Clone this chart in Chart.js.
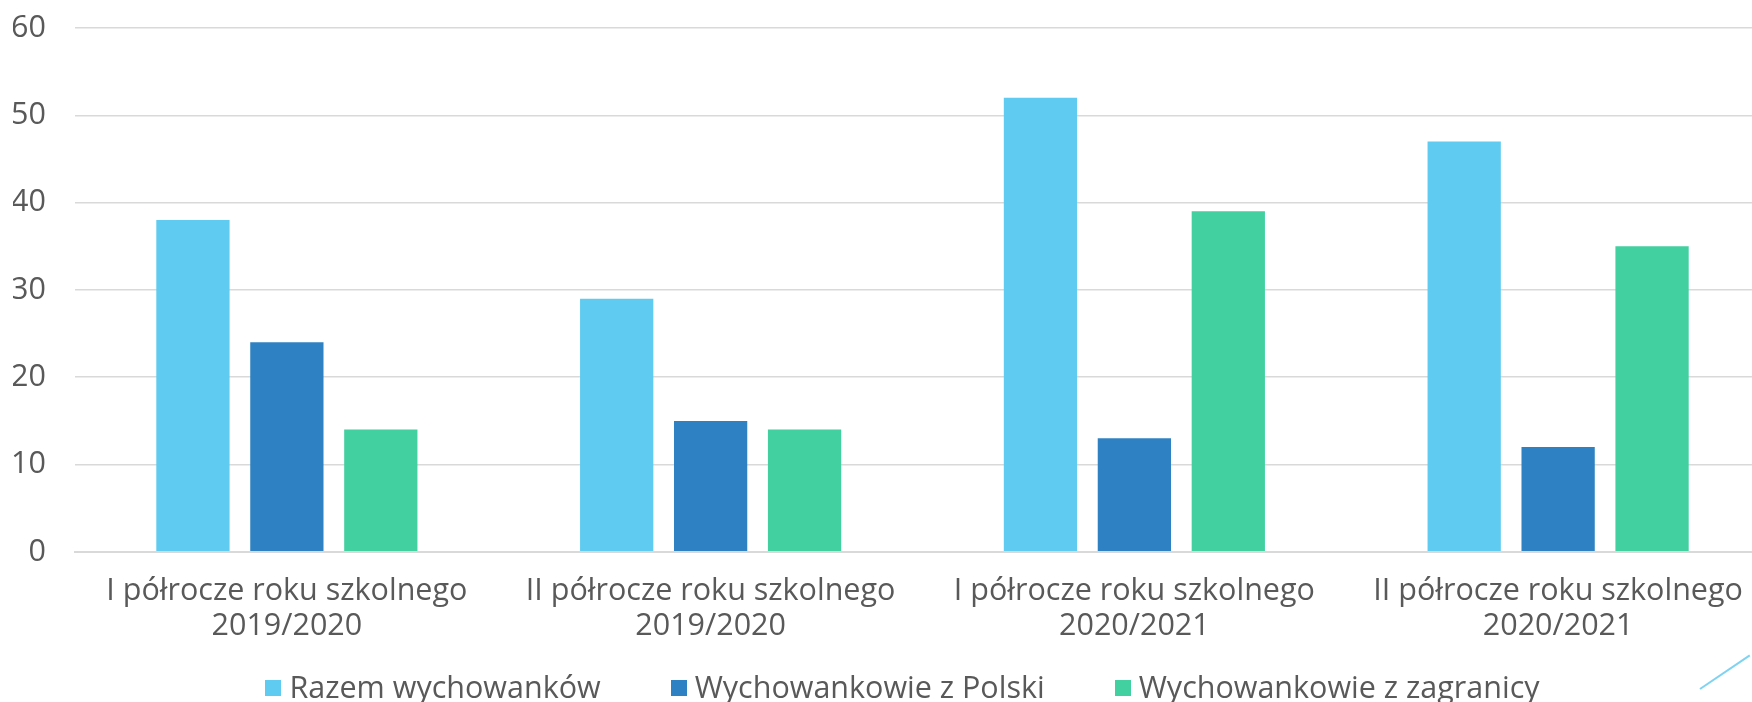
<!DOCTYPE html>
<html lang="pl">
<head>
<meta charset="utf-8">
<script src="https://cdn.jsdelivr.net/npm/chart.js@4/dist/chart.umd.min.js"></script>
<style>
    html, body { margin: 0; padding: 0; background: #fff; }
    .page { position: relative; width: 1752px; height: 702px; overflow: hidden; }
    .chart-wrap { position: absolute; left: 0; top: 0; width: 1790px; height: 702px; }
    .legend { position: absolute; left: 0; width: 1805px; top: 666px; display: flex; justify-content: center; gap: 70px;
              font-family: "Open Sans", sans-serif; font-size: 30.5px; color: #595959; line-height: 40px; white-space: nowrap; }
    .legend-item { display: flex; align-items: center; }
    .legend-box { width: 16px; height: 16px; margin-right: 8px; margin-top: 3px; }
    .deco { position: absolute; left: 1700px; top: 688px; width: 60px; height: 2px; background: #7fd3f2; transform: rotate(-34deg); transform-origin: left center; }
</style>
</head>
<body>
<div class="page">
    <div class="chart-wrap"><canvas id="chart-wychowankowie"></canvas></div>
    <div class="legend" id="legend"></div>
    <div class="deco"></div>
</div>
<script>
// Dane z wykresu
const kategorie = [
    ["I półrocze roku szkolnego", "2019/2020"],
    ["II półrocze roku szkolnego", "2019/2020"],
    ["I półrocze roku szkolnego", "2020/2021"],
    ["II półrocze roku szkolnego", "2020/2021"]
];
const razem      = [38, 29, 52, 47];
const zPolski    = [24, 15, 13, 12];
const zZagranicy = [14, 14, 39, 35];
const yTicks     = [0, 10, 20, 30, 40, 50, 60];

const TEXT_COLOR = "#595959";
const FONT = "'Open Sans', sans-serif";

const ctx = document.getElementById("chart-wychowankowie").getContext("2d");
const chart = new Chart(ctx, {
    type: "bar",
    data: {
        labels: kategorie,
        datasets: [
            { label: "Razem wychowanków", data: razem, backgroundColor: "#5fcbf0" },
            { label: "Wychowankowie z Polski", data: zPolski, backgroundColor: "#2e82c3" },
            { label: "Wychowankowie z zagranicy", data: zZagranicy, backgroundColor: "#43d0a1" }
        ]
    },
    options: {
        responsive: true,
        maintainAspectRatio: false,
        animation: false,
        categoryPercentage: 0.665,
        barPercentage: 0.78,
        layout: { padding: { left: 13, right: 20, top: 28, bottom: 44 } },
        plugins: {
            legend: { display: false },
            tooltip: { enabled: false }
        },
        scales: {
            x: {
                grid: { display: false },
                border: { color: "#d9d9d9", width: 2 },
                ticks: {
                    color: TEXT_COLOR,
                    font: { family: FONT, size: 30.5, lineHeight: 1.15 },
                    maxRotation: 0,
                    padding: 14
                }
            },
            y: {
                min: yTicks[0],
                max: yTicks[yTicks.length - 1],
                // stała szerokość osi, bez dodatkowego marginesu nad "60"
                afterFit: (scale) => { scale.width = 62; scale.paddingTop = 0; scale.paddingBottom = 0; },
                afterBuildTicks: (scale) => { scale.ticks = yTicks.map((v) => ({ value: v })); },
                grid: { color: "#d9d9d9", lineWidth: 1.5, drawTicks: false },
                border: { display: false },
                ticks: {
                    color: TEXT_COLOR,
                    font: { family: FONT, size: 30.5 },
                    padding: 29
                }
            }
        }
    }
});

// Legenda HTML z danych wykresu
document.getElementById("legend").innerHTML = chart.data.datasets.map((ds) => `
    <div class="legend-item">
        <span class="legend-box" style="background:${ds.backgroundColor}"></span>
        <span>${ds.label}</span>
    </div>`).join("");
</script>
</body>
</html>
